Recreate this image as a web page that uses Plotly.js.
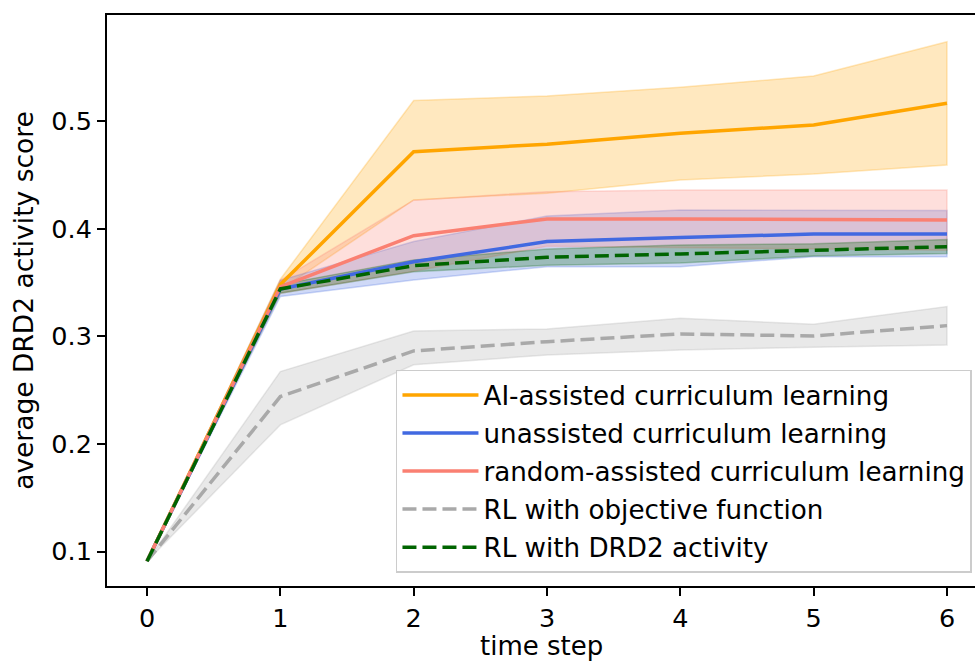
<!DOCTYPE html>
<html>
<head>
<meta charset="utf-8">
<script src="https://cdn.plot.ly/plotly-3.0.1.min.js"></script>
<style>html,body{margin:0;padding:0;background:#fff;}#chart{width:976px;height:663px;}</style>
</head>
<body>
<div id="chart"></div>
<script>
const steps = [0, 1, 2, 3, 4, 5, 6];
const seriesNames = [
  "AI-assisted curriculum learning",
  "unassisted curriculum learning",
  "random-assisted curriculum learning",
  "RL with objective function",
  "RL with DRD2 activity"
];
const xTitle = "time step";
const yTitle = "average DRD2 activity score";

const aiMean   = [0.091, 0.348, 0.4715, 0.4785, 0.4886, 0.4963, 0.5165];
const aiUpper  = [0.091, 0.353, 0.519, 0.5232, 0.5313, 0.5418, 0.5737];
const aiLower  = [0.091, 0.343, 0.4267, 0.4329, 0.4452, 0.4508, 0.4592];

const unMean   = [0.091, 0.344, 0.3693, 0.388, 0.3917, 0.395, 0.395];
const unUpper  = [0.091, 0.352, 0.3880, 0.4118, 0.4174, 0.4168, 0.4168];
const unLower  = [0.091, 0.337, 0.3523, 0.3647, 0.3647, 0.374, 0.374];

const rdMean   = [0.091, 0.346, 0.3935, 0.409, 0.409, 0.4086, 0.408];
const rdUpper  = [0.091, 0.352, 0.4265, 0.4344, 0.436, 0.436, 0.436];
const rdLower  = [0.091, 0.340, 0.3605, 0.3836, 0.382, 0.381, 0.380];

const objMean  = [0.091, 0.244, 0.2864, 0.295, 0.3022, 0.3003, 0.3099];
const objUpper = [0.091, 0.2672, 0.305, 0.3068, 0.3168, 0.3112, 0.3276];
const objLower = [0.091, 0.2177, 0.2735, 0.2827, 0.2873, 0.2898, 0.292];

const drdMean  = [0.091, 0.344, 0.3656, 0.3734, 0.3765, 0.3802, 0.3833];
const drdUpper = [0.091, 0.348, 0.371, 0.381, 0.3849, 0.3860, 0.390];
const drdLower = [0.091, 0.340, 0.360, 0.366, 0.368, 0.3745, 0.377];

const colors = ["#FFA500", "#4169E1", "#FA8072", "#A9A9A9", "#006400"];
const bandColors = ["rgba(255,165,0,0.25)", "rgba(65,105,225,0.25)", "rgba(250,128,114,0.25)", "rgba(169,169,169,0.25)", "rgba(0,100,0,0.25)"];
const dashes = ["solid", "solid", "solid", "14px,6px", "14px,6px"];

const means = [aiMean, unMean, rdMean, objMean, drdMean];
const uppers = [aiUpper, unUpper, rdUpper, objUpper, drdUpper];
const lowers = [aiLower, unLower, rdLower, objLower, drdLower];

const traces = [];
for (let i = 0; i < 5; i++) {
  traces.push({
    x: steps.concat(steps.slice().reverse()),
    y: uppers[i].concat(lowers[i].slice().reverse()),
    type: "scatter", mode: "lines", fill: "toself",
    fillcolor: bandColors[i],
    line: {color: bandColors[i], width: 1.5},
    hoverinfo: "skip", showlegend: false
  });
}
for (let i = 0; i < 5; i++) {
  traces.push({
    x: steps, y: means[i],
    type: "scatter", mode: "lines",
    name: seriesNames[i],
    legendgroup: "g" + i,
    line: {color: colors[i], width: 3.5, dash: dashes[i]}
  });
}

const layout = {
  width: 976, height: 663,
  margin: {l: 107, r: 1, t: 15, b: 77},
  paper_bgcolor: "#fff", plot_bgcolor: "#fff",
  font: {family: "DejaVu Sans, sans-serif", size: 26, color: "#000"},
  showlegend: true,
  legend: {
    x: 0.9965, y: 0.023, xanchor: "right", yanchor: "bottom",
    bgcolor: "rgba(255,255,255,0.8)", bordercolor: "#cccccc", borderwidth: 1.5,
    font: {family: "DejaVu Sans, sans-serif", size: 26.2, color: "#000"},
    traceorder: "grouped", tracegroupgap: 1, itemwidth: 76
  },
  xaxis: {
    range: [-0.3, 6.21],
    tickvals: steps, ticktext: steps.map(String),
    ticks: "outside", ticklen: 8, tickwidth: 2, tickcolor: "#000",
    showline: true, linecolor: "#000", linewidth: 2, mirror: true,
    showgrid: false, zeroline: false,
    tickfont: {size: 25.5}
  },
  yaxis: {
    range: [0.068, 0.5985],
    tickvals: [0.1, 0.2, 0.3, 0.4, 0.5],
    ticktext: ["0.1", "0.2", "0.3", "0.4", "0.5"],
    ticks: "outside", ticklen: 8, tickwidth: 2, tickcolor: "#000",
    showline: true, linecolor: "#000", linewidth: 2,
    showgrid: false, zeroline: false,
    tickfont: {size: 25.5},
    title: {text: yTitle, font: {size: 26.5}, standoff: 10}
  },
  annotations: [{
    text: xTitle, xref: "paper", yref: "paper", x: 0.5, y: 0,
    xanchor: "center", yanchor: "middle", yshift: -60, showarrow: false,
    font: {family: "DejaVu Sans, sans-serif", size: 26, color: "#000"}
  }]
};

Plotly.newPlot("chart", traces, layout, {displayModeBar: false, staticPlot: true});
</script>
</body>
</html>
